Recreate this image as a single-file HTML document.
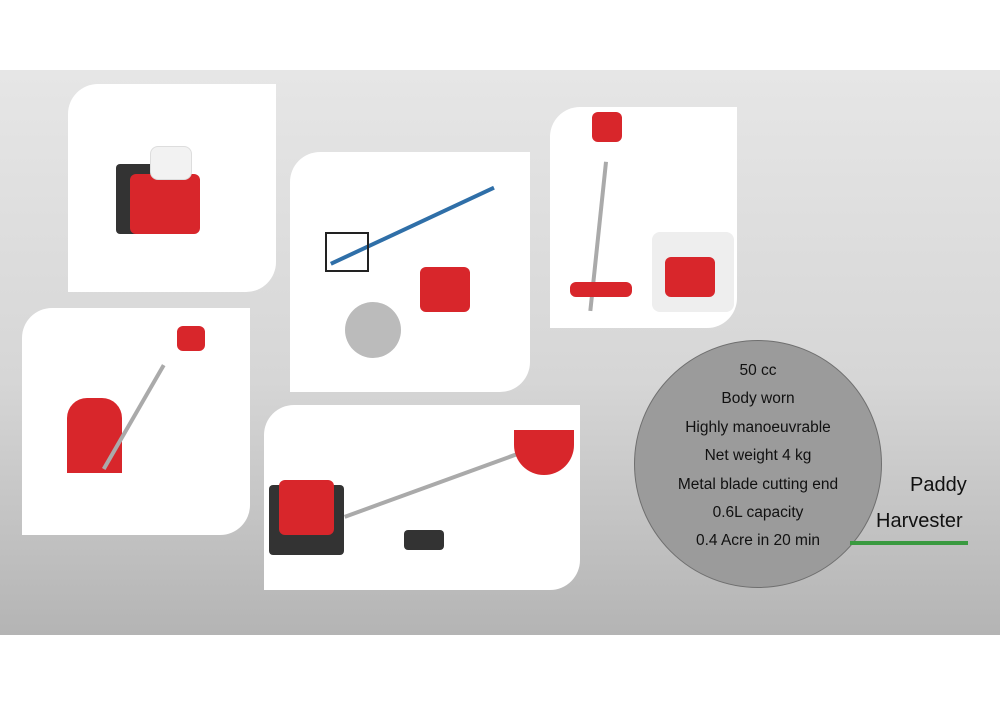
<!DOCTYPE html>
<html><head><style>
body{margin:0;width:1000px;height:707px;background:#fff;position:relative;overflow:hidden;font-family:"Liberation Sans",sans-serif}
.bg{position:absolute;left:0;top:70px;width:1000px;height:565px;background:linear-gradient(#e6e6e6,#d6d6d6 55%,#b4b4b4)}
.c{position:absolute;background:#fff;border-radius:30px 0 30px 0;overflow:hidden}
.r{position:absolute;background:#d8262b;border-radius:6px}
.k{position:absolute;background:#333;border-radius:4px}
.p{position:absolute;background:#aaa;height:4px;transform-origin:0 0}
.circ{position:absolute;left:634px;top:340px;width:246px;height:246px;border-radius:50%;background:#9b9b9b;border:1px solid #6f6f6f;text-align:center;font-size:15.5px;color:#111}
.circ div{height:28.4px;line-height:28.4px}
.t{position:absolute;font-size:20px;color:#111}
</style></head><body>
<div class="bg"></div>
<div class="c" style="left:68px;top:84px;width:208px;height:208px">
 <div class="k" style="left:48px;top:80px;width:40px;height:70px"></div>
 <div class="r" style="left:62px;top:90px;width:70px;height:60px"></div>
 <div style="position:absolute;left:82px;top:62px;width:40px;height:32px;background:#f2f2f2;border-radius:8px;border:1px solid #ddd"></div>
</div>
<div class="c" style="left:290px;top:152px;width:240px;height:240px">
 <div class="p" style="left:40px;top:110px;width:180px;transform:rotate(-25deg);background:#2f6fa8"></div>
 <div class="r" style="left:130px;top:115px;width:50px;height:45px"></div>
 <div style="position:absolute;left:55px;top:150px;width:56px;height:56px;border-radius:50%;background:#bbb"></div>
 <div style="position:absolute;left:35px;top:80px;width:40px;height:36px;border:2px solid #222"></div>
</div>
<div class="c" style="left:550px;top:107px;width:187px;height:221px">
 <div class="p" style="left:58px;top:55px;width:150px;transform:rotate(96deg)"></div>
 <div class="r" style="left:42px;top:5px;width:30px;height:30px"></div>
 <div class="r" style="left:20px;top:175px;width:62px;height:15px"></div>
 <div style="position:absolute;left:102px;top:125px;width:82px;height:80px;background:#eee;border-radius:8px"></div>
 <div class="r" style="left:115px;top:150px;width:50px;height:40px"></div>
</div>
<div class="c" style="left:22px;top:308px;width:228px;height:227px">
 <div class="r" style="left:45px;top:90px;width:55px;height:75px;border-radius:20px 20px 0 0"></div>
 <div class="p" style="left:80px;top:160px;width:120px;transform:rotate(-60deg)"></div>
 <div class="r" style="left:155px;top:18px;width:28px;height:25px"></div>
</div>
<div class="c" style="left:264px;top:405px;width:316px;height:185px">
 <div class="k" style="left:5px;top:80px;width:75px;height:70px"></div>
 <div class="r" style="left:15px;top:75px;width:55px;height:55px"></div>
 <div class="p" style="left:80px;top:110px;width:210px;transform:rotate(-20deg)"></div>
 <div class="r" style="left:250px;top:25px;width:60px;height:45px;border-radius:0 0 30px 30px"></div>
 <div class="k" style="left:140px;top:125px;width:40px;height:20px"></div>
</div>
<div class="circ"><div style="height:16px"></div><div>50 cc</div><div>Body worn</div><div>Highly manoeuvrable</div><div>Net weight 4 kg</div><div>Metal blade cutting end</div><div>0.6L capacity</div><div>0.4 Acre in 20 min</div></div>
<div class="t" style="left:910px;top:474px">Paddy</div>
<div class="t" style="left:876px;top:510px">Harvester</div>
<div style="position:absolute;left:850px;top:541px;width:118px;height:4px;background:#3a9a40"></div>
</body></html>
